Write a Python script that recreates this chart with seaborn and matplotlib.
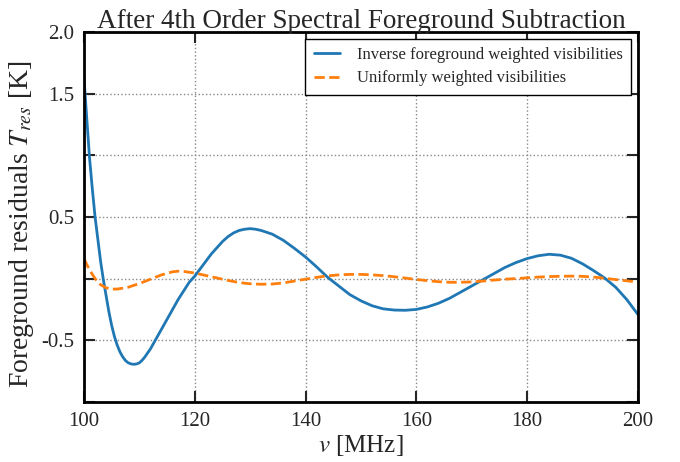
import matplotlib
matplotlib.use("Agg")
import matplotlib.pyplot as plt
import seaborn as sns
import pandas as pd

freq_blue = [100, 100.5, 101, 101.5, 102, 102.5, 103, 103.5, 104, 104.5, 105, 105.5, 106, 106.5, 107,
             107.5, 108, 108.5, 109, 109.5, 110, 110.5, 111, 112, 113, 114, 115, 116, 117, 118, 119,
             120, 121, 122, 123, 124, 125, 126, 127, 128, 129, 130, 131, 132, 134, 136, 138, 140,
             142, 144, 146, 148, 150, 152, 154, 156, 158, 160, 162, 164, 166, 168, 170, 172, 174,
             176, 178, 180, 182, 184, 186, 188, 190, 192, 194, 196, 198, 200]
resid_blue = [1.63, 1.30, 0.98, 0.73, 0.50, 0.32, 0.14, -0.01, -0.14, -0.27, -0.38, -0.47, -0.54, -0.595, -0.635,
              -0.665, -0.683, -0.692, -0.695, -0.692, -0.683, -0.662, -0.635, -0.57, -0.49, -0.41, -0.33, -0.25, -0.17, -0.10, -0.03,
              0.02, 0.08, 0.14, 0.20, 0.25, 0.30, 0.34, 0.37, 0.39, 0.40, 0.405, 0.40, 0.39, 0.36, 0.31, 0.245, 0.175,
              0.095, 0.01, -0.06, -0.13, -0.18, -0.22, -0.245, -0.255, -0.257, -0.25, -0.23, -0.20, -0.16, -0.11, -0.06, -0.01, 0.04,
              0.09, 0.13, 0.162, 0.185, 0.197, 0.19, 0.165, 0.12, 0.065, 0.005, -0.07, -0.17, -0.29]

freq_orange = [100, 101, 102, 103, 104, 105, 106, 108, 110, 112, 114, 116, 117, 118, 120, 122, 124,
               126, 128, 130, 132, 134, 136, 138, 140, 142, 144, 146, 148, 150, 152, 154, 156, 158,
               160, 162, 164, 166, 168, 170, 172, 174, 176, 178, 180, 182, 184, 186, 188, 190, 192,
               194, 196, 198, 200]
resid_orange = [0.16, 0.07, 0.0, -0.05, -0.075, -0.085, -0.085, -0.07, -0.04, -0.005, 0.03, 0.055, 0.06, 0.058, 0.045, 0.025, 0.005,
                -0.015, -0.032, -0.042, -0.046, -0.044, -0.035, -0.02, -0.005, 0.01, 0.022, 0.03, 0.034, 0.034, 0.03, 0.024, 0.015, 0.004,
                -0.007, -0.017, -0.025, -0.03, -0.03, -0.027, -0.02, -0.012, -0.005, 0.0, 0.006, 0.012, 0.016, 0.019, 0.02, 0.018, 0.012,
                0.003, -0.008, -0.018, -0.028]

label_blue = "Inverse foreground weighted visibilities"
label_orange = "Uniformly weighted visibilities"
y_ticks = [-1.0, -0.5, 0.0, 0.5, 1.0, 1.5, 2.0]
y_ticklabels = ["", "-0.5", "", "0.5", "", "1.5", "2.0"]
x_ticks = [100, 120, 140, 160, 180, 200]

sns.set_style("ticks")
plt.rcParams["font.family"] = ["Liberation Serif", "DejaVu Serif"]
plt.rcParams["mathtext.fontset"] = "stix"

df_b = pd.DataFrame({"freq": freq_blue, "res": resid_blue})
df_o = pd.DataFrame({"freq": freq_orange, "res": resid_orange})

fig, ax = plt.subplots(figsize=(6.8, 4.62), dpi=100)
fig.subplots_adjust(left=0.1235, right=0.938, top=0.931, bottom=0.13)

sns.lineplot(data=df_b, x="freq", y="res", ax=ax, color="#1f77b4", linewidth=2, label=label_blue)
sns.lineplot(data=df_o, x="freq", y="res", ax=ax, color="#ff7f0e", linewidth=2, linestyle="--",
             dashes=False, label=label_orange)
ax.lines[1].set_linestyle("--")

ax.set_xlim(100, 200)
ax.set_ylim(-1.0, 2.0)
ax.set_xticks(x_ticks)
ax.set_yticks(y_ticks)
ax.set_yticklabels(y_ticklabels)
ax.grid(True, linestyle=":", color="#888888", linewidth=1)

ax.tick_params(direction="in", length=8, width=1.5, labelsize=15, top=True, right=True, pad=7)
for s in ax.spines.values():
    s.set_linewidth(2)
    s.set_color("black")
    s.set_visible(True)

ax.set_title("After 4th Order Spectral Foreground Subtraction", fontsize=19.5, pad=3)
ax.set_xlabel(r"$v$ [MHz]", fontsize=18, labelpad=2)
ax.set_ylabel(r"Foreground residuals $T_{res}$ [K]", fontsize=20, labelpad=4)
ax.yaxis.set_label_coords(-0.087, 0.48)

leg = ax.legend(loc="upper right", fontsize=12, frameon=True, fancybox=False, handlelength=1.6,
                handletextpad=1.0, borderaxespad=0.4, labelspacing=0.45, borderpad=0.5)
leg.get_frame().set_edgecolor("black")
leg.get_frame().set_linewidth(1)
leg.get_frame().set_alpha(1)

fig.savefig("out.png", dpi=100)
